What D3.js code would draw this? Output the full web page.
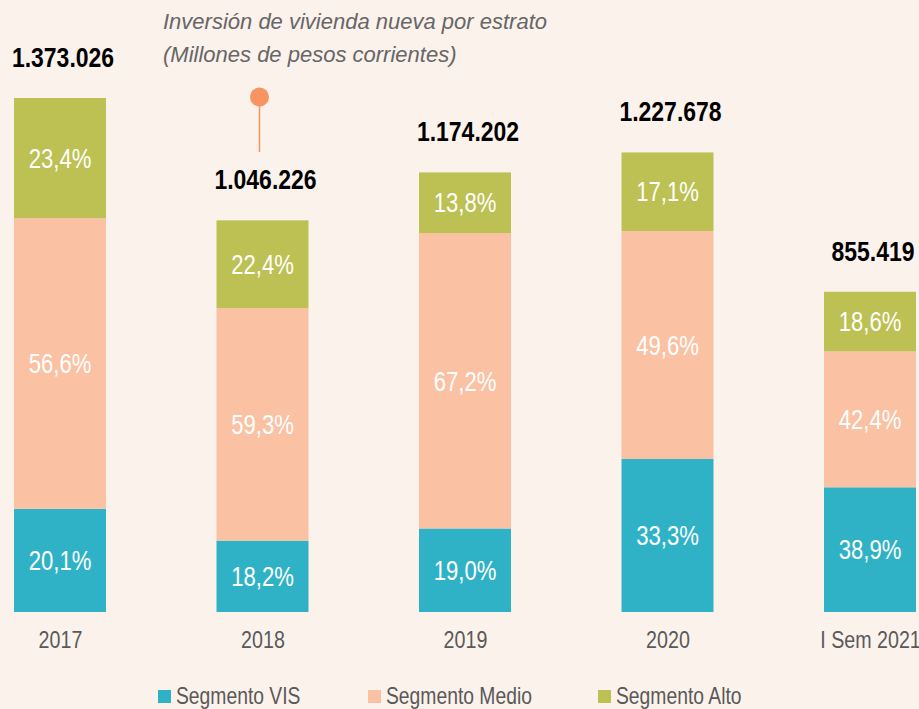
<!DOCTYPE html>
<html>
<head>
<meta charset="utf-8">
<script src="https://cdn.jsdelivr.net/npm/d3@7"></script>
<style>
  html, body { margin: 0; padding: 0; background: #fcf2ec; }
  svg { display: block; }
  text { font-family: "Liberation Sans", Arial, sans-serif; }
</style>
</head>
<body>
<svg id="chart" width="919" height="709"></svg>
<script>
const years = ['2017', '2018', '2019', '2020', 'I Sem 2021'];
const totals = [1373026, 1046226, 1174202, 1227678, 855419];
const totalLabels = ['1.373.026', '1.046.226', '1.174.202', '1.227.678', '855.419'];
const pctVis = [20.1, 18.2, 19.0, 33.3, 38.9];
const pctMedio = [56.6, 59.3, 67.2, 49.6, 42.4];
const pctAlto = [23.4, 22.4, 13.8, 17.1, 18.6];

const keys = ['vis', 'medio', 'alto'];
const names = ['Segmento VIS', 'Segmento Medio', 'Segmento Alto'];
const colors = ['#30b2c6', '#fbc1a3', '#bdc053'];

const baseY = 612;
const barW = 92;
// no Arial Narrow here, so squeeze the regular face
const narrow = 0.82;

const svg = d3.select('#chart');

// rows with each segment scaled so the stack reaches the total
const rows = years.map((y, i) => {
	const sum = pctVis[i] + pctMedio[i] + pctAlto[i];
	return {
		year: y,
		total: totals[i],
		label: totalLabels[i],
		pct: { vis: pctVis[i], medio: pctMedio[i], alto: pctAlto[i] },
		vis: pctVis[i] / sum * totals[i],
		medio: pctMedio[i] / sum * totals[i],
		alto: pctAlto[i] / sum * totals[i]
	};
});

const x = d3.scalePoint().domain(years).range([60, 870]);
const y = d3.scaleLinear().domain([0, d3.max(totals)]).range([baseY, 98]);
const color = d3.scaleOrdinal().domain(keys).range(colors);

const stacked = d3.stack().keys(keys)(rows);

const $layer = svg.selectAll('g.layer')
	.data(stacked)
	.enter()
	.append('g')
	.attr('class', 'layer')
	.attr('fill', d => color(d.key));

$layer.selectAll('rect')
	.data(d => d)
	.enter()
	.append('rect')
	.attr('x', d => x(d.data.year) - barW / 2)
	.attr('width', barW)
	.attr('y', d => y(d[1]))
	.attr('height', d => y(d[0]) - y(d[1]));

// percent labels inside segments
stacked.forEach(layer => {
	svg.append('g')
		.selectAll('text')
		.data(layer)
		.enter()
		.append('text')
		.attr('transform', d => `translate(${x(d.data.year)},${(y(d[0]) + y(d[1])) / 2}) scale(${narrow},1)`)
		.attr('dy', '0.36em')
		.attr('text-anchor', 'middle')
		.attr('fill', '#fff')
		.style('font-size', '27px')
		.text(d => d3.format('.1f')(d.data.pct[layer.key]).replace('.', ',') + '%');
});

// totals above bars
svg.append('g')
	.selectAll('text')
	.data(rows)
	.enter()
	.append('text')
	.attr('transform', d => `translate(${x(d.year) + 3},${y(d.total) - 31}) scale(${narrow},1)`)
	.attr('text-anchor', 'middle')
	.attr('fill', '#000')
	.style('font-size', '28px')
	.style('font-weight', 'bold')
	.text(d => d.label);

// year axis
const xAxis = svg.append('g')
	.attr('transform', `translate(0,${baseY})`)
	.call(d3.axisBottom(x).tickSize(0).tickPadding(19));
xAxis.select('.domain').remove();
xAxis.selectAll('text')
	.attr('transform', `scale(${narrow},1)`)
	.attr('fill', '#595959')
	.style('font-size', '24px');

// pin marker on 2018
const pinX = x('2018') - 3;
svg.append('line')
	.attr('x1', pinX).attr('x2', pinX)
	.attr('y1', 97).attr('y2', 152)
	.attr('stroke', '#f79462')
	.attr('stroke-width', 1.5);
svg.append('circle')
	.attr('cx', pinX).attr('cy', 97)
	.attr('r', 9.5)
	.attr('fill', '#f79462');

// title
const title = svg.append('text')
	.attr('fill', '#666')
	.style('font-style', 'italic')
	.style('font-size', '22px');
title.append('tspan').attr('x', 163).attr('y', 29).text('Inversión de vivienda nueva por estrato');
title.append('tspan').attr('x', 163).attr('y', 62).text('(Millones de pesos corrientes)');

// legend
const legendX = [158, 368, 598];
const $leg = svg.append('g')
	.selectAll('g')
	.data(keys)
	.enter()
	.append('g')
	.attr('transform', (d, i) => `translate(${legendX[i]},690)`);
$leg.append('rect')
	.attr('width', 13).attr('height', 13)
	.attr('fill', d => color(d));
$leg.append('text')
	.attr('transform', `translate(18,14) scale(0.84,1)`)
	.attr('fill', '#595959')
	.style('font-size', '23px')
	.text((d, i) => names[i]);
</script>
</body>
</html>
